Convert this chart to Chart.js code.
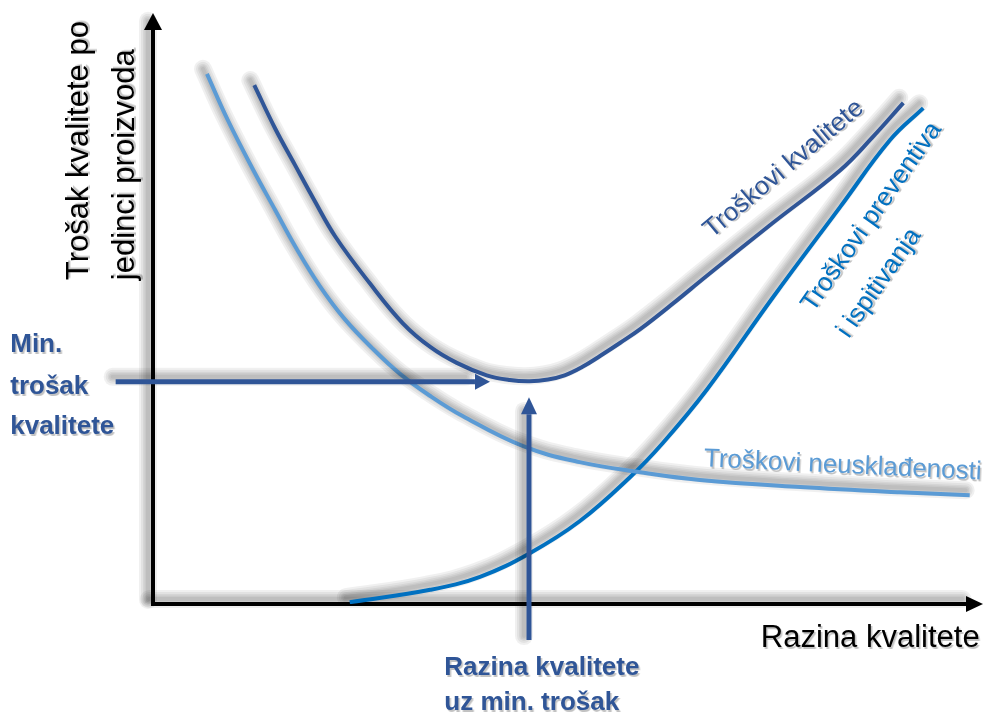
<!DOCTYPE html>
<html>
<head>
<meta charset="utf-8">
<script src="https://cdn.jsdelivr.net/npm/chart.js@4.4.1/dist/chart.umd.min.js"></script>
<style>
body { margin: 0; background: #fff; }
#wrap { width: 988px; height: 713px; }
</style>
</head>
<body>
<div id="wrap"><canvas id="costChart"></canvas></div>
<script>
// Troškovi neusklađenosti (0-100 units)
const nonconfX = [6.5, 9.0, 11.9, 14.7, 17.3, 20.1, 23.1, 26.4, 29.8, 33.4, 37.3, 44.6, 51.4, 58.7, 65.9, 78.0, 90.0, 98.4];
const nonconfY = [89.7, 81.9, 73.9, 66.7, 60.1, 53.8, 48.2, 43.3, 38.9, 35.2, 31.8, 26.7, 24.0, 22.3, 21.0, 19.8, 18.9, 18.4];
// Troškovi kvalitete
const totalX = [12.2, 14.7, 17.1, 19.4, 22.0, 26.1, 30.1, 33.4, 36.6, 40.2, 43.0, 45.4, 47.6, 49.6, 51.7, 53.9, 56.3, 58.7, 62.7, 66.7, 74.7, 82.8, 86.7, 90.4];
const totalY = [87.8, 80.5, 74.3, 68.4, 62.1, 54.3, 47.5, 43.5, 40.8, 38.7, 37.9, 37.7, 38.0, 38.7, 40.1, 42.0, 44.2, 46.5, 50.9, 55.5, 64.5, 73.4, 79.0, 84.8];
// Troškovi preventiva i ispitivanja
const preventX = [23.7, 33.4, 39.4, 45.4, 51.4, 57.5, 61.4, 66.7, 74.7, 82.8, 88.8, 92.8];
const preventY = [0.3, 2.4, 4.6, 8.6, 14.0, 21.5, 27.2, 36.2, 51.9, 67.2, 78.5, 83.9];

const yTitle = ['Trošak kvalitete po', 'jedinci proizvoda'];
const xTitle = 'Razina kvalitete';
const minCostLabel = ['Min.', 'trošak', 'kvalitete'];
const minLevelLabel = ['Razina kvalitete', 'uz min. trošak'];

const navy = '#2F5597';
const lightBlue = '#5B9BD5';
const midBlue = '#0070C0';

const toPoints = (xs, ys) => xs.map((x, i) => ({ x: x, y: ys[i] }));

// curve labels, placed in data units
const curveLabels = [
    { text: 'Troškovi kvalitete', x: 76.0, y: 73.6, angle: -40, color: navy },
    { text: 'Troškovi preventiva', x: 86.6, y: 65.5, angle: -55, color: midBlue },
    { text: 'i ispitivanja', x: 87.5, y: 54.3, angle: -55, color: midBlue },
    { text: 'Troškovi neusklađenosti', x: 83.1, y: 23.4, angle: 2.7, color: lightBlue }
];

// soft grey shadow, done by hand with stacked translucent strokes
function glow(ctx, buildPath, dx, dy) {
    ctx.save();
    ctx.translate(dx, dy);
    ctx.lineCap = 'round';
    ctx.lineJoin = 'round';
    ctx.strokeStyle = 'rgba(0,0,0,0.06)';
    [18, 14, 10, 7, 4].forEach(w => {
        ctx.lineWidth = w;
        buildPath();
        ctx.stroke();
    });
    ctx.restore();
}

function curvePath(ctx, pts) {
    ctx.beginPath();
    ctx.moveTo(pts[0].x, pts[0].y);
    for (let i = 1; i < pts.length; i++) {
        const p = pts[i - 1], c = pts[i];
        ctx.bezierCurveTo(p.cp2x, p.cp2y, c.cp1x, c.cp1y, c.x, c.y);
    }
}

function arrow(ctx, x1, y1, x2, y2, width, headLen, headHalf, color) {
    const ang = Math.atan2(y2 - y1, x2 - x1);
    const bx = x2 - Math.cos(ang) * headLen;
    const by = y2 - Math.sin(ang) * headLen;
    ctx.strokeStyle = color;
    ctx.fillStyle = color;
    ctx.lineWidth = width;
    ctx.beginPath();
    ctx.moveTo(x1, y1);
    ctx.lineTo(bx, by);
    ctx.stroke();
    ctx.beginPath();
    ctx.moveTo(x2, y2);
    ctx.lineTo(bx + Math.sin(ang) * headHalf, by - Math.cos(ang) * headHalf);
    ctx.lineTo(bx - Math.sin(ang) * headHalf, by + Math.cos(ang) * headHalf);
    ctx.closePath();
    ctx.fill();
}

function linePath(ctx, x1, y1, x2, y2) {
    return () => {
        ctx.beginPath();
        ctx.moveTo(x1, y1);
        ctx.lineTo(x2, y2);
    };
}

function shadowText(ctx, text, x, y) {
    const fill = ctx.fillStyle;
    ctx.fillStyle = 'rgba(0,0,0,0.13)';
    ctx.fillText(text, x + 2, y + 2);
    ctx.fillText(text, x + 1, y + 2);
    ctx.fillStyle = fill;
    ctx.fillText(text, x, y);
}

const axesPlugin = {
    id: 'diagramAxes',
    beforeDatasetsDraw(chart) {
        const ctx = chart.ctx;
        const px = v => chart.scales.x.getPixelForValue(v);
        const py = v => chart.scales.y.getPixelForValue(v);

        // shadows first, so they sit under every mark
        glow(ctx, linePath(ctx, px(0), py(0), px(0), py(98)), -5, -4);
        glow(ctx, linePath(ctx, px(0), py(0), px(98), py(0)), -4, -5);
        chart.data.datasets.forEach((ds, i) => {
            const pts = chart.getDatasetMeta(i).data;
            glow(ctx, () => curvePath(ctx, pts), -4, -5);
        });

        arrow(ctx, px(0), py(0) + 2, px(0), py(100), 4, 17, 9, '#000');
        arrow(ctx, px(0) - 2, py(0), px(100), py(0), 4, 17, 8, '#000');
    },
    afterDatasetsDraw(chart) {
        const ctx = chart.ctx;
        const px = v => chart.scales.x.getPixelForValue(v);
        const py = v => chart.scales.y.getPixelForValue(v);

        // min cost pointers
        glow(ctx, linePath(ctx, px(-4.5), py(37.6), px(38), py(37.6)), -3, -5);
        glow(ctx, linePath(ctx, px(45.3), py(-6.1), px(45.3), py(32)), -5, -4);
        arrow(ctx, px(-4.5), py(37.6), px(40.6), py(37.6), 5, 15, 8, navy);
        arrow(ctx, px(45.3), py(-6.1), px(45.3), py(35.0), 5, 17, 8, navy);

        ctx.save();
        ctx.textBaseline = 'middle';
        ctx.textAlign = 'center';
        ctx.font = '26px "Liberation Sans", Arial, sans-serif';
        curveLabels.forEach(l => {
            ctx.save();
            ctx.translate(px(l.x), py(l.y));
            ctx.rotate(l.angle * Math.PI / 180);
            ctx.fillStyle = l.color;
            shadowText(ctx, l.text, 0, 0);
            ctx.restore();
        });

        ctx.textBaseline = 'alphabetic';
        ctx.fillStyle = '#000';
        ctx.font = '31px "Liberation Sans", Arial, sans-serif';
        ctx.textAlign = 'left';
        [-7.8, -2.3].forEach((xv, i) => {
            ctx.save();
            ctx.translate(px(xv), py(54.8));
            ctx.rotate(-Math.PI / 2);
            shadowText(ctx, yTitle[i], 0, 0);
            ctx.restore();
        });
        ctx.textAlign = 'right';
        shadowText(ctx, xTitle, px(99.6), py(-7.3));

        ctx.fillStyle = navy;
        ctx.font = 'bold 26px "Liberation Sans", Arial, sans-serif';
        ctx.textAlign = 'left';
        [42.6, 35.5, 28.8].forEach((yv, i) => shadowText(ctx, minCostLabel[i], px(-17.2), py(yv)));
        [-12.0, -17.9].forEach((yv, i) => shadowText(ctx, minLevelLabel[i], px(35.1), py(yv)));
        ctx.restore();
    }
};

const costCtx = document.getElementById('costChart').getContext('2d');
const costChart = new Chart(costCtx, {
    type: 'line',
    data: {
        datasets: [{
            label: 'Troškovi neusklađenosti',
            data: toPoints(nonconfX, nonconfY),
            borderColor: lightBlue,
            borderWidth: 4
        }, {
            label: 'Troškovi preventiva i ispitivanja',
            data: toPoints(preventX, preventY),
            borderColor: midBlue,
            borderWidth: 4
        }, {
            label: 'Troškovi kvalitete',
            data: toPoints(totalX, totalY),
            borderColor: navy,
            borderWidth: 4
        }]
    },
    options: {
        responsive: true,
        maintainAspectRatio: false,
        animation: false,
        layout: { padding: { left: 153, right: 5, top: 13, bottom: 109 } },
        elements: {
            point: { radius: 0 },
            line: { tension: 0.4, fill: false, borderCapStyle: 'butt' }
        },
        plugins: {
            legend: { display: false },
            tooltip: { enabled: false }
        },
        scales: {
            x: { type: 'linear', min: 0, max: 100, display: false },
            y: { type: 'linear', min: 0, max: 100, display: false }
        }
    },
    plugins: [axesPlugin]
});
</script>
</body>
</html>
